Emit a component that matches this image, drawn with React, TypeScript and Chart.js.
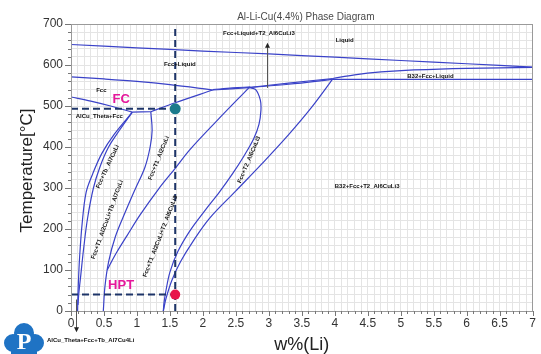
import React, { useEffect, useRef } from 'react';
import { Chart, registerables } from 'chart.js';

Chart.register(...registerables);

type Pt = [number, number];

// Axis ticks
const xMajorTicks = [0, 0.5, 1, 1.5, 2, 2.5, 3, 3.5, 4, 4.5, 5, 5.5, 6, 6.5, 7];
const yMajorTicks = [0, 100, 200, 300, 400, 500, 600, 700];

// Phase boundaries, w%(Li) vs temperature [°C]
const liquidus: Pt[] = [[0, 650], [1, 642], [2, 634], [3, 627], [4, 619], [5, 611], [6, 603], [7, 595]];
const solidus: Pt[] = [[0, 571], [0.5, 566], [1, 560], [1.5, 552], [2.15, 539]];
const fccSolvus: Pt[] = [[0, 522], [0.3, 512], [0.6, 500], [0.93, 485]];
const eutecticTie: Pt[] = [[0.93, 485], [1.21, 486]];
const t1Solidus: Pt[] = [[1.21, 486], [1.58, 508], [2.15, 539]];
const t2Tie: Pt[] = [[2.15, 539], [2.7, 545]];
const t2TieUpper: Pt[] = [[2.15, 540], [2.45, 544], [2.72, 546.5]];
const b32TieUpper: Pt[] = [[2.7, 545], [3.3, 556], [3.97, 567]];
const b32TieLower: Pt[] = [[2.7, 545], [3.3, 553], [3.97, 565]];
const b32Upper: Pt[] = [[3.97, 567], [4.3, 576], [4.7, 583], [5.2, 588], [6, 592], [7, 594]];
const b32Lower: Pt[] = [[3.97, 565], [7, 565]];
const tbOuter: Pt[] = [[0.93, 485], [0.66, 432], [0.47, 385], [0.33, 335], [0.23, 290], [0.17, 215], [0.13, 130], [0.11, 60], [0.1, 0]];
const tbInner: Pt[] = [[0.93, 485], [0.74, 442], [0.57, 400], [0.44, 352], [0.34, 300], [0.25, 225], [0.19, 150], [0.15, 90], [0.12, 45], [0.105, 15]];
const t1Left: Pt[] = [[1.21, 486], [1.23, 440], [1.2, 400], [1.12, 350], [0.97, 296], [0.82, 240], [0.67, 180], [0.57, 120], [0.515, 60], [0.49, 0]];
const t1Right: Pt[] = [[2.7, 545], [2.2, 462], [1.8, 393], [1.58, 348], [1.33, 298], [1.05, 235], [0.85, 184], [0.7, 145], [0.6, 116], [0.55, 100]];
const t2Left: Pt[] = [[2.7, 545], [2.8, 540], [2.87, 515], [2.88, 490], [2.85, 455], [2.77, 420], [2.63, 380], [2.45, 335], [2.25, 290], [2.03, 245], [1.8, 195], [1.62, 145], [1.5, 95], [1.44, 50], [1.41, 20], [1.4, 0]];
const t2Right: Pt[] = [[1.4, 0], [1.44, 30], [1.53, 75], [1.66, 120], [1.85, 170], [2.1, 226], [2.5, 293], [2.9, 360], [3.3, 430], [3.65, 497], [3.97, 566]];

const boundaries: Pt[][] = [
  liquidus, solidus, fccSolvus, eutecticTie, t1Solidus, t2Tie, t2TieUpper, b32TieUpper, b32TieLower,
  b32Upper, b32Lower, tbOuter, tbInner, t1Left, t1Right, t2Left, t2Right,
];

// Process route markers
const alloyLi = 1.58;
const fcTemp = 493;
const hptTemp = 40;

// Region names: [text, w%(Li), T, rotation in degrees]
const regionLabels: [string, number, number, number][] = [
  ['Liquid', 4.15, 661, 0],
  ['Fcc+Liquid', 1.65, 602, 0],
  ['Fcc+Liquid+T2_Al6CuLi3', 2.85, 676, 0],
  ['B32+Fcc+Liquid', 5.45, 573, 0],
  ['Fcc', 0.46, 537, 0],
  ['AlCu_Theta+Fcc', 0.43, 474, 0],
  ['B32+Fcc+T2_Al6CuLi3', 4.49, 303, 0],
  ['Fcc+Tb_Al7CuLi', 0.555, 352, -65],
  ['Fcc+T1_Al2CuLi+Tb_Al7CuLi', 0.55, 223, -70],
  ['Fcc+T1_Al2CuLi', 1.33, 373, -68],
  ['Fcc+T1_Al2CuLi+T2_Al6CuLi3', 1.354, 182, -69],
  ['Fcc+T2_Al6CuLi3', 2.7, 369, -67],
];

const toXY = (pts: Pt[]) => pts.map(([x, y]) => ({ x, y }));

const overlay = {
  id: 'diagramOverlay',
  afterDatasetsDraw(chart: any) {
    const { ctx, chartArea: a } = chart;
    const xs = chart.scales.x;
    const ys = chart.scales.y;
    const X = (v: number) => xs.getPixelForValue(v);
    const Y = (v: number) => ys.getPixelForValue(v);
    ctx.save();

    // frame
    ctx.strokeStyle = '#9a9a9a';
    ctx.lineWidth = 1;
    ctx.strokeRect(Math.round(a.left) + 0.5, Math.round(a.top) + 0.5, Math.round(a.right - a.left) - 1, Math.round(a.bottom - a.top));

    // tick marks
    ctx.strokeStyle = '#777';
    ctx.beginPath();
    for (let i = 0; i <= 70; i++) {
      const px = Math.round(X(i / 10)) + 0.5;
      const len = i % 5 === 0 ? 5 : 3;
      ctx.moveTo(px, a.bottom);
      ctx.lineTo(px, a.bottom + len);
    }
    for (let i = 0; i <= 35; i++) {
      const py = Math.round(Y(i * 20)) + 0.5;
      const len = i % 5 === 0 ? 6 : 3;
      ctx.moveTo(a.left, py);
      ctx.lineTo(a.left - len, py);
    }
    ctx.stroke();

    // region names
    ctx.fillStyle = '#111';
    ctx.font = 'bold 6px "Liberation Sans", Arial, sans-serif';
    ctx.textAlign = 'center';
    ctx.textBaseline = 'middle';
    regionLabels.forEach(([text, w, t, rot]) => {
      ctx.save();
      ctx.translate(X(w), Y(t));
      ctx.rotate((rot * Math.PI) / 180);
      ctx.fillText(text, 0, 0);
      ctx.restore();
    });

    // route labels
    ctx.fillStyle = '#e5179b';
    ctx.font = 'bold 13px "Liberation Sans", Arial, sans-serif';
    ctx.fillText('FC', X(0.76), Y(515));
    ctx.fillText('HPT', X(0.76), Y(62));

    // annotation arrows
    const arrow = (x: number, y0: number, y1: number) => {
      const px = Math.round(X(x)) + 0.5;
      const p0 = Y(y0);
      const p1 = Y(y1);
      const dir = p1 > p0 ? 1 : -1;
      ctx.strokeStyle = '#555';
      ctx.lineWidth = 1;
      ctx.beginPath();
      ctx.moveTo(px, p0);
      ctx.lineTo(px, p1 - dir * 4);
      ctx.stroke();
      ctx.fillStyle = '#222';
      ctx.beginPath();
      ctx.moveTo(px, p1);
      ctx.lineTo(px - 2.5, p1 - dir * 5);
      ctx.lineTo(px + 2.5, p1 - dir * 5);
      ctx.closePath();
      ctx.fill();
    };
    arrow(2.97, 544, 654);
    arrow(0.075, 28, -52);

    ctx.fillStyle = '#111';
    ctx.font = 'bold 6px "Liberation Sans", Arial, sans-serif';
    ctx.textAlign = 'left';
    ctx.fillText('AlCu_Theta+Fcc+Tb_Al7Cu4Li', 47, Y(-72));

    ctx.restore();
  },
  afterDraw(chart: any) {
    const { ctx, chartArea: a } = chart;
    ctx.save();
    // title
    ctx.fillStyle = '#4a4a4a';
    ctx.font = '10px "Liberation Sans", Arial, sans-serif';
    ctx.textAlign = 'center';
    ctx.textBaseline = 'middle';
    ctx.fillText('Al-Li-Cu(4.4%) Phase Diagram', (a.left + a.right) / 2 + 4, 17);

    // axis titles
    ctx.fillStyle = '#222';
    ctx.font = '18px "Liberation Sans", Arial, sans-serif';
    ctx.fillText('w%(Li)', (a.left + a.right) / 2, 345);
    ctx.save();
    ctx.translate(27, (a.top + a.bottom) / 2 + 3);
    ctx.rotate(-Math.PI / 2);
    ctx.font = '17px "Liberation Sans", Arial, sans-serif';
    ctx.fillText('Temperature[°C]', 0, 0);
    ctx.restore();

    // logo
    ctx.fillStyle = '#1f73c4';
    ctx.beginPath();
    ctx.arc(24, 333, 10, 0, Math.PI * 2);
    ctx.moveTo(22, 343);
    ctx.arc(13, 343, 9, 0, Math.PI * 2);
    ctx.moveTo(44, 343);
    ctx.arc(35, 343, 9, 0, Math.PI * 2);
    ctx.fill();
    ctx.fillRect(11, 340, 26, 14);
    ctx.fillStyle = '#fff';
    ctx.font = 'bold 24px "Liberation Serif", serif';
    ctx.fillText('P', 24, 343);
    ctx.restore();
  },
};

export default function App() {
  const ref = useRef<HTMLCanvasElement | null>(null);

  useEffect(() => {
    if (!ref.current) return;
    const lineColor = '#3a42c8';
    const datasets: any[] = [
      {
        data: [{ x: alloyLi, y: fcTemp }],
        pointRadius: 5.5,
        pointBackgroundColor: '#1b7a8c',
        pointBorderWidth: 0,
        showLine: false,
      },
      {
        data: [{ x: alloyLi, y: hptTemp }],
        pointRadius: 5,
        pointBackgroundColor: '#e8154c',
        pointBorderWidth: 0,
        showLine: false,
      },
      ...[
        [[0, fcTemp], [alloyLi, fcTemp]],
        [[0, hptTemp], [alloyLi, hptTemp]],
        [[alloyLi, 0], [alloyLi, 700]],
      ].map((pts) => ({
        data: toXY(pts as Pt[]),
        borderColor: '#1d3468',
        borderWidth: 2,
        borderDash: [7, 4],
        pointRadius: 0,
        showLine: true,
      })),
      ...boundaries.map((pts) => ({
        data: toXY(pts),
        borderColor: lineColor,
        borderWidth: 1.2,
        pointRadius: 0,
        showLine: true,
        tension: 0.35,
      })),
    ];

    const chart = new Chart(ref.current, {
      type: 'scatter',
      data: { datasets },
      options: {
        animation: false,
        responsive: true,
        maintainAspectRatio: false,
        layout: { padding: { top: 24, right: 1, left: 0, bottom: 0 } },
        plugins: { legend: { display: false }, tooltip: { enabled: false }, title: { display: false } },
        scales: {
          x: {
            type: 'linear',
            min: 0,
            max: 7,
            afterFit: (s: any) => { s.height = 43; },
            ticks: {
              stepSize: 0.1,
              autoSkip: false,
              maxRotation: 0,
              padding: 5,
              color: '#333',
              font: { size: 12, family: '"Liberation Sans", Arial, sans-serif' },
              callback: (v: any) => {
                const m = xMajorTicks.find((t) => Math.abs(t - Number(v)) < 1e-6);
                return m === undefined ? '' : String(m);
              },
            },
            grid: { color: '#e4e4e4', drawTicks: false },
            border: { display: false },
          },
          y: {
            type: 'linear',
            min: 0,
            max: 700,
            afterFit: (s: any) => { s.width = 71; },
            ticks: {
              stepSize: 20,
              autoSkip: false,
              padding: 8,
              color: '#333',
              font: { size: 12, family: '"Liberation Sans", Arial, sans-serif' },
              callback: (v: any) => (yMajorTicks.includes(Number(v)) ? String(v) : ''),
            },
            grid: { color: '#e4e4e4', drawTicks: false },
            border: { display: false },
          },
        },
      },
      plugins: [overlay],
    });
    return () => chart.destroy();
  }, []);

  return (
    <div style={{ position: 'fixed', left: 0, top: 0, width: 541, height: 354, background: '#fff' }}>
      <canvas ref={ref} />
    </div>
  );
}
